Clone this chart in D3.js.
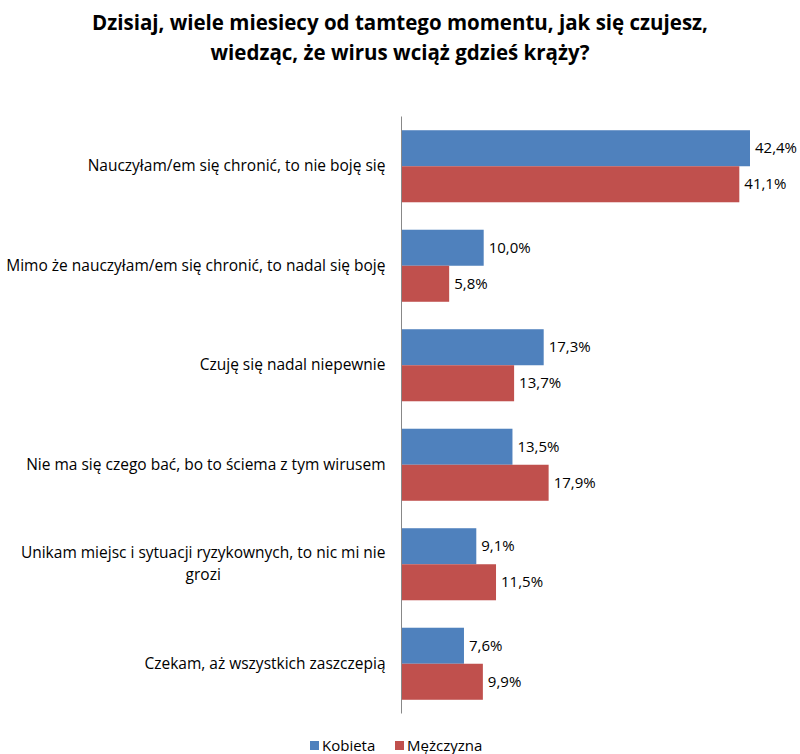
<!DOCTYPE html>
<html>
<head>
<meta charset="utf-8">
<script src="https://cdn.jsdelivr.net/npm/d3@7"></script>
<style>
  html, body { margin: 0; padding: 0; background: #fff; }
  svg { display: block; font-family: "Open Sans", sans-serif; }
</style>
</head>
<body>
<svg id="chart" width="800" height="754"></svg>
<script>
// Survey answers and shares by gender (percent); "\n" marks a line break in the label
const categories = [
  "Nauczyłam/em się chronić, to nie boję się",
  "Mimo że nauczyłam/em się chronić, to nadal się boję",
  "Czuję się nadal niepewnie",
  "Nie ma się czego bać, bo to ściema z tym wirusem",
  "Unikam miejsc i sytuacji ryzykownych, to nic mi nie\ngrozi",
  "Czekam, aż wszystkich zaszczepią"
];
const seriesNames = ["Kobieta", "Mężczyzna"];
const kobieta = [42.4, 10.0, 17.3, 13.5, 9.1, 7.6];
const mezczyzna = [41.1, 5.8, 13.7, 17.9, 11.5, 9.9];
const colors = ["#4F81BD", "#C0504D"];
const titleLines = [
  "Dzisiaj, wiele miesiecy od tamtego momentu, jak się czujesz,",
  "wiedząc, że wirus wciąż gdzieś krąży?"
];

const svg = d3.select("#chart");
const axisX = 401.5;
const catFont = 15.5;
const valFont = 15;

const x = d3.scaleLinear().domain([0, 42.4]).range([axisX, 750]);
const y = d3.scaleBand().domain(categories).range([116.5, 713.5]).paddingInner(0.276).paddingOuter(0.138);
const sub = d3.scaleBand().domain(seriesNames).range([0, y.bandwidth()]);

const fmt = v => d3.format(".1f")(v).replace(".", ",") + "%";

// Title
svg.append("g").selectAll("text").data(titleLines).join("text")
  .attr("x", 400).attr("y", (d, i) => 30 + i * 30)
  .attr("text-anchor", "middle")
  .attr("font-weight", "bold").attr("font-size", 20.5).attr("fill", "#000")
  .text(d => d);

// Bars
const rows = categories.map((c, i) => ({ c, vals: [kobieta[i], mezczyzna[i]] }));
const groups = svg.append("g").selectAll("g").data(rows).join("g")
  .attr("transform", d => `translate(0,${y(d.c)})`);

groups.selectAll("rect").data(d => d.vals.map((v, j) => ({ v, s: seriesNames[j], j })))
  .join("rect")
  .attr("x", x(0))
  .attr("y", d => sub(d.s))
  .attr("width", d => x(d.v) - x(0))
  .attr("height", sub.bandwidth())
  .attr("fill", d => colors[d.j]);

groups.selectAll("text.val").data(d => d.vals.map((v, j) => ({ v, s: seriesNames[j] })))
  .join("text").attr("class", "val")
  .attr("x", d => x(d.v) + 5)
  .attr("y", d => sub(d.s) + sub.bandwidth() / 2)
  .attr("dy", "0.35em")
  .attr("font-size", valFont).attr("fill", "#000")
  .text(d => fmt(d.v));

// Category axis
const yAxis = d3.axisLeft(y).tickSize(0).tickPadding(16);
const ag = svg.append("g").attr("transform", `translate(${axisX},0)`).call(yAxis);
ag.select(".domain").attr("stroke", "#888").attr("d", "M0,116.5V713.5");
ag.selectAll(".tick text").attr("font-size", catFont).attr("font-family", "'Open Sans', sans-serif").attr("fill", "#000");

// Multi-line labels: first line right-aligned, following lines centred under it
const lineStep = 1.42;
ag.selectAll(".tick text").each(function (d) {
  const t = d3.select(this);
  const lines = d.split("\n");
  const n = lines.length;
  t.text(null);
  const spans = lines.map((l, i) => t.append("tspan")
    .attr("x", -16)
    .attr("dy", i === 0 ? `${0.32 - (n - 1) * lineStep / 2}em` : `${lineStep}em`)
    .text(l));
  if (n > 1) {
    const w = spans[0].node().getComputedTextLength();
    spans.slice(1).forEach(s => s.attr("x", -16 - w / 2).attr("text-anchor", "middle"));
  }
});

// Legend
const legend = svg.append("g").attr("transform", "translate(310,746)");
const items = legend.selectAll("g").data(seriesNames).join("g")
  .attr("transform", (d, i) => `translate(${i * 85},0)`);
items.append("rect").attr("x", 0).attr("y", -5).attr("width", 9).attr("height", 9)
  .attr("fill", (d, i) => colors[i]);
items.append("text").attr("x", 12).attr("y", 0).attr("dy", "0.35em")
  .attr("font-size", valFont).attr("fill", "#000").text(d => d);
</script>
</body>
</html>
